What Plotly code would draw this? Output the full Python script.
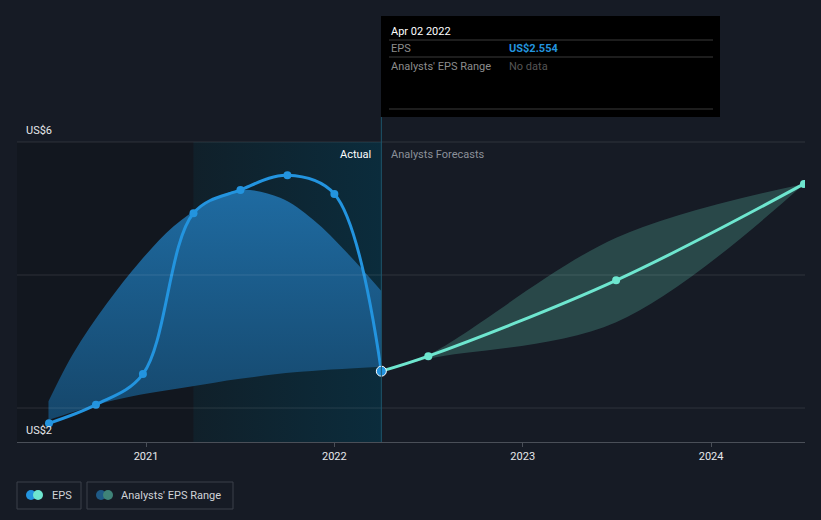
import plotly.graph_objects as go

# ---------------- data ----------------
eps_dates = ["2020-06-27", "2020-09-26", "2020-12-26", "2021-04-03",
             "2021-07-03", "2021-10-02", "2022-01-01", "2022-04-02"]
eps_values = [1.77, 2.05, 2.51, 4.93, 5.28, 5.50, 5.22, 2.554]

past_high_dates = ["2020-06-26", "2020-08-13", "2020-10-17", "2020-12-20", "2021-02-23",
                   "2021-04-29", "2021-07-02", "2021-09-18", "2021-11-21", "2022-01-26",
                   "2022-04-02"]
past_range_high = [2.10, 2.82, 3.57, 4.20, 4.73, 5.08, 5.28, 5.16, 4.83, 4.33, 3.76]
past_low_dates = ["2020-06-26", "2020-08-13", "2020-10-17", "2020-12-20", "2021-03-26",
                  "2021-07-02", "2021-10-21", "2022-04-02"]
past_range_low = [1.82, 1.94, 2.09, 2.20, 2.32, 2.44, 2.54, 2.62]

fc_dates = ["2022-04-02", "2022-07-02", "2023-07-01", "2024-06-29"]
fc_values = [2.554, 2.78, 3.92, 5.37]
fc_low = [2.554, 2.74, 3.29, 5.37]
fc_high = [2.554, 2.80, 4.56, 5.37]

year_ticks = ["2021-01-01", "2022-01-01", "2023-01-01", "2024-01-01"]
year_labels = ["2021", "2022", "2023", "2024"]
y_grid = [2, 4, 6]
y_label_vals = [2, 6]
y_label_text = ["US$2", "US$6"]

x_range = ["2020-04-26", "2024-07-01"]
y_range = [1.489, 6.331]
highlight_start = "2021-04-03"
today = "2022-04-02"

# ---------------- layout helpers ----------------
W, H = 821, 520
L, R, T, B = 17, 805, 120, 442
PW, PH = R - L, B - T


def px(x):
    return (x - L) / PW


def py(y):
    return (B - y) / PH


BG = "#161b25"
FONT = "Roboto, 'Open Sans', sans-serif"

fig = go.Figure()

# highlighted "last year" column with horizontal gradient
fig.add_trace(go.Scatter(
    x=[highlight_start, today, today, highlight_start, highlight_start],
    y=[y_range[0], y_range[0], 6, 6, y_range[0]],
    mode="lines", line=dict(width=0), fill="toself",
    fillgradient=dict(type="horizontal",
                      colorscale=[[0, "#10202a"], [1, "#0b2c3c"]]),
    hoverinfo="skip", showlegend=False))

# past analysts range
fig.add_trace(go.Scatter(
    x=past_low_dates, y=past_range_low, mode="lines",
    line=dict(width=0, shape="spline"), hoverinfo="skip", showlegend=False))
fig.add_trace(go.Scatter(
    x=past_high_dates, y=past_range_high, mode="lines",
    line=dict(width=0, shape="spline"), fill="tonexty",
    fillgradient=dict(type="vertical", start=1.8, stop=5.4,
                      colorscale=[[0, "#15466a"], [1, "#1f6ca3"]]),
    hoverinfo="skip", showlegend=False))

# forecast analysts range
fig.add_trace(go.Scatter(
    x=fc_dates, y=fc_low, mode="lines",
    line=dict(width=0, shape="spline"), hoverinfo="skip", showlegend=False))
fig.add_trace(go.Scatter(
    x=fc_dates, y=fc_high, mode="lines",
    line=dict(width=0, shape="spline"), fill="tonexty",
    fillcolor="rgba(110,230,205,0.22)", hoverinfo="skip", showlegend=False))

# EPS actual
fig.add_trace(go.Scatter(
    x=eps_dates, y=eps_values, mode="lines+markers",
    line=dict(color="#2394df", width=3, shape="spline"),
    marker=dict(size=8, color="#2394df"),
    hoverinfo="skip", showlegend=False))

# EPS forecast
fig.add_trace(go.Scatter(
    x=fc_dates, y=fc_values, mode="lines+markers",
    line=dict(color="#6ee6cf", width=3, shape="spline"),
    marker=dict(size=8, color="#6ee6cf"),
    hoverinfo="skip", showlegend=False))

# current point
fig.add_trace(go.Scatter(
    x=[eps_dates[-1]], y=[eps_values[-1]], mode="markers",
    marker=dict(size=10, color="#2394df", line=dict(color="white", width=1)),
    hoverinfo="skip", showlegend=False))

shapes = []
# dark past region
shapes.append(dict(type="rect", xref="x", yref="y", x0=x_range[0], x1=highlight_start,
                   y0=y_range[0], y1=6, fillcolor="#12171f", line=dict(width=0),
                   layer="below"))
# grid lines above traces
for g in y_grid:
    shapes.append(dict(type="line", xref="paper", yref="y", x0=0, x1=1, y0=g, y1=g,
                       line=dict(color="rgba(255,255,255,0.11)", width=1), layer="above"))
# today line
shapes.append(dict(type="line", xref="x", yref="paper", x0=today, x1=today,
                   y0=0, y1=py(117), line=dict(color="#1d566b", width=1), layer="above"))

# tooltip box
shapes.append(dict(type="rect", xref="paper", yref="paper", x0=px(381), x1=px(720),
                   y0=py(117), y1=py(16), fillcolor="#000000", line=dict(width=0),
                   layer="above"))
for ly in [40, 57, 109]:
    shapes.append(dict(type="line", xref="paper", yref="paper", x0=px(389), x1=px(713),
                       y0=py(ly), y1=py(ly), line=dict(color="#3a3a3a", width=1),
                       layer="above"))

# legend boxes
shapes.append(dict(type="rect", xref="paper", yref="paper", x0=px(17), x1=px(81),
                   y0=py(509), y1=py(482), line=dict(color="#3b404b", width=1),
                   fillcolor="rgba(0,0,0,0)"))
shapes.append(dict(type="rect", xref="paper", yref="paper", x0=px(87), x1=px(233),
                   y0=py(509), y1=py(482), line=dict(color="#3b404b", width=1),
                   fillcolor="rgba(0,0,0,0)"))
for cx, col in [(31, "#2394df"), (38, "#6ee6cf"), (101, "#1f5a86"), (108, "#3f8378")]:
    shapes.append(dict(type="circle", xref="paper", yref="paper",
                       x0=px(cx - 5), x1=px(cx + 5), y0=py(500), y1=py(490),
                       fillcolor=col, line=dict(width=0)))

annotations = []
for g, lab in zip(y_label_vals, y_label_text):
    annotations.append(dict(xref="paper", yref="y", x=px(24), y=g,
                            yshift=-22 if g == y_grid[0] else 12,
                            text=lab, showarrow=False, xanchor="left", yanchor="middle",
                            font=dict(color="#e6e8eb", size=11, family=FONT)))
annotations.append(dict(xref="x", yref="paper", x=today, y=py(154), xshift=-8,
                        text="Actual", showarrow=False, xanchor="right", yanchor="middle",
                        font=dict(color="#ffffff", size=11, family=FONT)))
annotations.append(dict(xref="x", yref="paper", x=today, y=py(154), xshift=8,
                        text="Analysts Forecasts", showarrow=False, xanchor="left",
                        yanchor="middle", font=dict(color="#8b9099", size=11, family=FONT)))
# tooltip text
tt = [(389, 31, "Apr 02 2022", "#ffffff", 11),
      (389, 48, "EPS", "#8c8c8c", 11),
      (507, 48, "<b>US$2.554</b>", "#2394df", 11),
      (389, 66, "Analysts' EPS Range", "#8c8c8c", 11),
      (507, 66, "No data", "#555555", 11)]
for x, y, t, c, s in tt:
    annotations.append(dict(xref="paper", yref="paper", x=px(x), y=py(y), text=t,
                            showarrow=False, xanchor="left", yanchor="middle",
                            font=dict(color=c, size=s, family=FONT)))
# legend text
annotations.append(dict(xref="paper", yref="paper", x=px(50), y=py(495), text="EPS",
                        showarrow=False, xanchor="left", yanchor="middle",
                        font=dict(color="#d0d3d8", size=11, family=FONT)))
annotations.append(dict(xref="paper", yref="paper", x=px(119), y=py(495),
                        text="Analysts' EPS Range", showarrow=False, xanchor="left",
                        yanchor="middle", font=dict(color="#d0d3d8", size=11, family=FONT)))

fig.update_layout(
    width=W, height=H,
    margin=dict(l=L, r=W - R, t=T, b=H - B),
    paper_bgcolor=BG, plot_bgcolor=BG,
    font=dict(family=FONT, color="#e6e8eb", size=11),
    showlegend=False,
    shapes=shapes, annotations=annotations,
    xaxis=dict(type="date", range=x_range, tickvals=year_ticks, ticktext=year_labels,
               showgrid=False, zeroline=False, showline=True, linecolor="#4a4f58",
               ticks="outside", ticklen=4, tickcolor="#4a4f58",
               tickfont=dict(color="#e6e8eb", size=11, family=FONT), fixedrange=True),
    yaxis=dict(range=y_range, showgrid=False, zeroline=False, showticklabels=False,
               fixedrange=True),
)

fig.write_html("out.html")
